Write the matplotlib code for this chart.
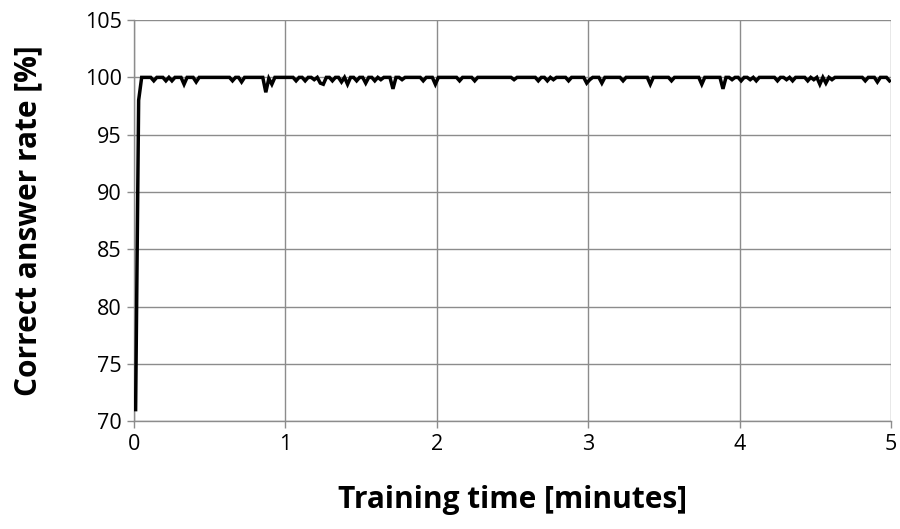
import matplotlib
matplotlib.use("Agg")
import matplotlib.pyplot as plt
import numpy as np

plt.rcParams['font.family'] = ['Open Sans', 'DejaVu Sans']

# Training time [minutes], sampled every 0.02 min
time_start = 0.01
time_step = 0.02
# Correct answer rate [%]
rate = [
    71, 98, 100, 100, 100, 100, 99.7, 100, 100, 100,
    99.7, 100, 99.7, 100, 100, 100, 99.4, 100, 100, 100,
    99.6, 100, 100, 100, 100, 100, 100, 100, 100, 100,
    100, 100, 99.7, 100, 100, 99.6, 100, 100, 100, 100,
    100, 100, 100, 98.7, 99.9, 99.4, 100, 100, 100, 100,
    100, 100, 100, 99.7, 100, 100, 99.7, 100, 100, 99.8,
    100, 99.5, 99.4, 100, 100, 99.7, 100, 100, 99.6, 100,
    99.4, 100, 100, 99.7, 100, 100, 99.5, 100, 100, 99.7,
    100, 99.8, 100, 100, 100, 99.0, 100, 100, 99.8, 100,
    100, 100, 100, 100, 100, 99.7, 100, 100, 100, 99.4,
    100, 100, 100, 100, 100, 100, 100, 99.7, 100, 100,
    100, 100, 99.7, 100, 100, 100, 100, 100, 100, 100,
    100, 100, 100, 100, 100, 99.8, 100, 100, 100, 100,
    100, 100, 100, 99.7, 100, 100, 99.7, 100, 99.8, 100,
    100, 100, 100, 99.7, 100, 100, 100, 100, 100, 99.5,
    99.8, 100, 100, 100, 99.5, 100, 100, 100, 100, 100,
    100, 99.7, 100, 100, 100, 100, 100, 100, 100, 100,
    99.4, 100, 100, 100, 100, 100, 100, 99.7, 100, 100,
    100, 100, 100, 100, 100, 100, 100, 99.4, 100, 100,
    100, 100, 100, 100, 99.0, 100, 100, 99.8, 100, 100,
    99.7, 100, 100, 99.8, 100, 99.7, 100, 100, 100, 100,
    100, 100, 99.7, 100, 100, 99.8, 100, 99.7, 100, 100,
    100, 100, 99.7, 100, 99.8, 100, 99.4, 100, 99.5, 100,
    99.8, 100, 100, 100, 100, 100, 100, 100, 100, 100,
    100, 99.7, 100, 100, 100, 99.6, 100, 100, 100, 99.7,
]
time = time_start + time_step * np.arange(len(rate))

x_ticks = [0, 1, 2, 3, 4, 5]
y_ticks = [70, 75, 80, 85, 90, 95, 100, 105]

fig = plt.figure(figsize=(9, 5.29), dpi=100)
ax = fig.add_axes([0.149, 0.204, 0.841, 0.758])

grid_c = '#8c8c8c'
ax.plot(time, rate, color='black', lw=2.5, zorder=3, solid_joinstyle='miter')
ax.set_xlim(0, 5)
ax.set_ylim(70, 105)
ax.set_xticks(x_ticks)
ax.set_yticks(y_ticks)
ax.grid(True, color=grid_c, lw=1)
for s in ['top', 'right']:
    ax.spines[s].set_visible(False)
for s in ['left', 'bottom']:
    ax.spines[s].set_color(grid_c)
    ax.spines[s].set_linewidth(1)
ax.tick_params(axis='both', colors=grid_c, length=5, width=1, labelsize=15.5,
               labelcolor='black', pad=4)
ax.set_xlabel('Training time [minutes]', fontsize=21.5, fontweight='bold', labelpad=22)
ax.set_ylabel('Correct answer rate [%]', fontsize=21.5, fontweight='bold', labelpad=30)

fig.savefig('out.png', dpi=100)
